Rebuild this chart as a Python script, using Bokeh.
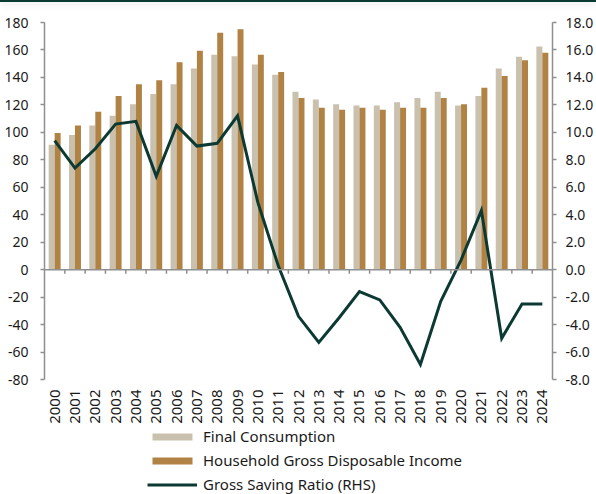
from bokeh.plotting import figure
from bokeh.models import (ColumnDataSource, Range1d, LinearAxis, Span,
                          Legend, LegendItem, GlobalInlineStyleSheet, NumeralTickFormatter,
                          SingleIntervalTicker)
from bokeh.transform import dodge
from bokeh.embed import file_html
from bokeh.resources import INLINE
from bokeh.core.properties import value
import math

years = [str(y) for y in range(2000, 2025)]
final_consumption = [91, 98, 105, 112, 120.5, 128, 135, 146.5, 156.5, 155.5, 149.5, 142,
                     129.5, 124, 120.5, 119.5, 119.5, 122, 125, 129.5, 119.5, 126.5, 146.5,
                     155, 162.5]
disposable_income = [99.5, 105, 115, 126.5, 135, 138, 151, 159.5, 172.5, 175, 156.5, 144,
                     125, 118, 116.5, 118, 116.5, 118, 118, 125, 120.5, 132.5, 141, 152.5, 158]
saving_ratio = [9.4, 7.4, 8.8, 10.6, 10.8, 6.8, 10.5, 9.0, 9.2, 11.2, 4.9, 0.3, -3.4, -5.3,
                -3.5, -1.6, -2.2, -4.2, -6.9, -2.3, 0.7, 4.3, -5.0, -2.5, -2.5]

BEIGE = "#c9c1ad"
BROWN = "#b08244"
GREEN = "#0c3a33"
GREY = "#8f8f8f"
TEXT = "#1a1a1a"
FONT = "Noto Sans"

LMIN, LMAX = -80, 180
RMIN, RMAX = -8, 18
# the frame extends below the axis minimum to hold year labels and legend
EXTRA = 115 / 357 * (LMAX - LMIN)

idx = list(range(len(years)))
src = ColumnDataSource(dict(x=idx, fc=final_consumption, inc=disposable_income,
                            sav=saving_ratio, yr=years, ylab=[LMIN] * len(years)))

p = figure(width=596, height=494, output_backend="svg", toolbar_location=None,
           x_range=Range1d(-0.5, len(years) - 0.5), y_range=Range1d(LMIN - EXTRA, LMAX),
           x_axis_location=None, y_axis_location=None,
           min_border_left=44, min_border_right=41, min_border_top=22, min_border_bottom=0)
p.extra_y_ranges = {"rhs": Range1d(RMIN - EXTRA / 10, RMAX)}
p.outline_line_color = None
p.xgrid.visible = False
p.ygrid.visible = False
p.background_fill_color = "white"
p.border_fill_color = "white"

# axes
left = LinearAxis(ticker=SingleIntervalTicker(interval=20), bounds=(LMIN, LMAX),
                  formatter=NumeralTickFormatter(format="0"))
right = LinearAxis(y_range_name="rhs", ticker=SingleIntervalTicker(interval=2),
                   bounds=(RMIN, RMAX), formatter=NumeralTickFormatter(format="0.0"))
for ax, standoff in ((left, 12), (right, 9)):
    ax.axis_line_color = GREY
    ax.axis_line_width = 1.5
    ax.major_tick_line_color = GREY
    ax.major_tick_line_width = 1.5
    ax.major_tick_out = 4
    ax.major_tick_in = 0
    ax.minor_tick_line_color = None
    ax.major_label_standoff = standoff
    ax.major_label_text_font = FONT
    ax.major_label_text_font_size = "14px"
    ax.major_label_text_color = TEXT
p.add_layout(left, "left")
p.add_layout(right, "right")

r_fc = p.vbar(x=dodge("x", -0.147, range=p.x_range), top="fc", width=0.294, bottom=0,
              source=src, fill_color=BEIGE, line_color=None)
r_inc = p.vbar(x=dodge("x", 0.147, range=p.x_range), top="inc", width=0.294, bottom=0,
               source=src, fill_color=BROWN, line_color=None)

# zero axis with category-boundary ticks
p.add_layout(Span(location=0, dimension="width", line_color=GREY, line_width=1.5))
bounds = [i + 0.5 for i in idx[:-1]]
p.segment(x0=bounds, x1=bounds, y0=[0] * len(bounds), y1=[-3] * len(bounds),
          line_color=GREY, line_width=1.5)

r_sav = p.line("x", "sav", source=src, y_range_name="rhs", line_color=GREEN,
               line_width=3, line_join="miter")

# year labels (vertical, reading upward) below the axis minimum
p.text(x="x", y="ylab", text="yr", source=src, angle=math.pi / 2,
       text_align="right", text_baseline="middle", y_offset=10,
       text_font=value(FONT), text_font_size="15px", text_color=TEXT)

legend = Legend(items=[LegendItem(label="Final Consumption", renderers=[r_fc]),
                       LegendItem(label="Household Gross Disposable Income", renderers=[r_inc]),
                       LegendItem(label="Gross Saving Ratio (RHS)", renderers=[r_sav])],
                location=(103, 0), orientation="vertical",
                glyph_width=50, glyph_height=9, label_height=20, spacing=4,
                padding=0, margin=0, label_standoff=6,
                border_line_color=None, background_fill_alpha=0,
                label_text_font=FONT, label_text_font_size="15px",
                label_text_color=TEXT)
p.add_layout(legend, "center")

p.stylesheets = [GlobalInlineStyleSheet(css="""
html, body { margin: 0 !important; padding: 0; overflow: hidden; background: white; }
body::before { content: ''; position: fixed; top: 0; left: 0; right: 0; height: 2px;
  background: #0b3a33; box-shadow: 0 2px 7px rgba(0,0,0,0.18); z-index: 100; }
""")]

open("out.html", "w").write(file_html(p, INLINE))
